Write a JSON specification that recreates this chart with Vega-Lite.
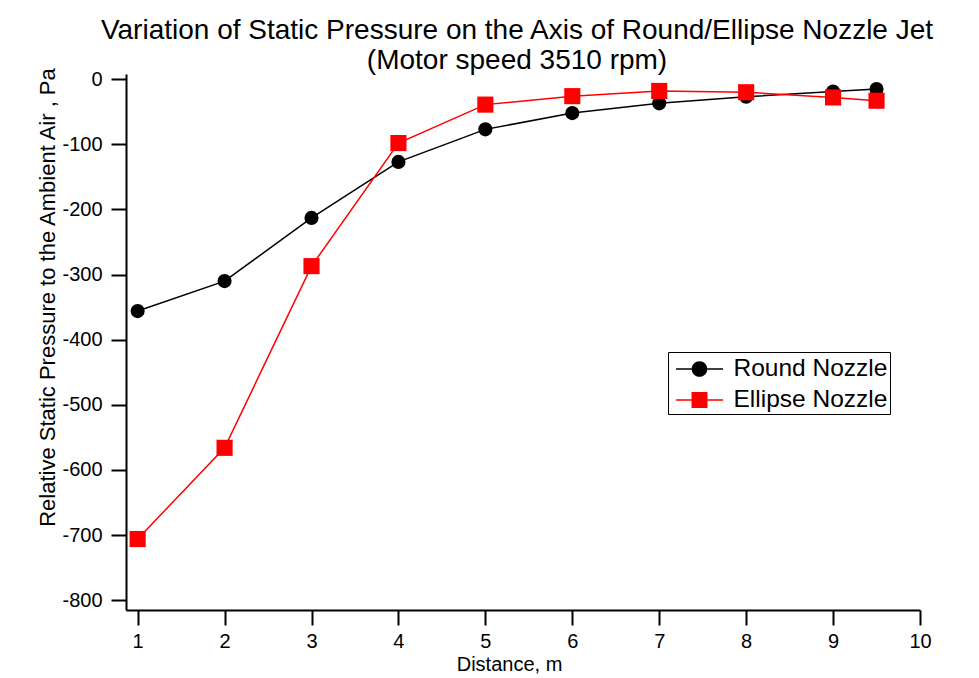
{
  "$schema": "https://vega.github.io/schema/vega-lite/v6.json",
  "width": 794,
  "height": 536,
  "autosize": "none",
  "padding": {"left": 126, "top": 74, "right": 59, "bottom": 68},
  "background": "white",
  "config": {
    "font": "Liberation Sans",
    "view": {"stroke": null},
    "axis": {"grid": false, "domainColor": "black", "domainWidth": 2, "tickColor": "black", "tickWidth": 2, "tickSize": 15, "labelColor": "black", "titleColor": "black", "labelFont": "Liberation Sans", "titleFont": "Liberation Sans", "titleFontWeight": "normal"}
  },
  "title": {
    "text": ["Variation of Static Pressure on the Axis of Round/Ellipse Nozzle Jet", "(Motor speed 3510 rpm)"],
    "font": "Liberation Sans",
    "fontSize": 28,
    "fontWeight": "normal",
    "lineHeight": 30,
    "color": "black",
    "anchor": "middle",
    "dx": -6,
    "offset": -8
  },
  "data": {
    "values": [
      {"distance": 1, "pressure": -356, "series": "Round Nozzle"},
      {"distance": 2, "pressure": -310, "series": "Round Nozzle"},
      {"distance": 3, "pressure": -213, "series": "Round Nozzle"},
      {"distance": 4, "pressure": -127, "series": "Round Nozzle"},
      {"distance": 5, "pressure": -77, "series": "Round Nozzle"},
      {"distance": 6, "pressure": -52, "series": "Round Nozzle"},
      {"distance": 7, "pressure": -37, "series": "Round Nozzle"},
      {"distance": 8, "pressure": -27, "series": "Round Nozzle"},
      {"distance": 9, "pressure": -19, "series": "Round Nozzle"},
      {"distance": 9.5, "pressure": -15, "series": "Round Nozzle"},
      {"distance": 1, "pressure": -706, "series": "Ellipse Nozzle"},
      {"distance": 2, "pressure": -566, "series": "Ellipse Nozzle"},
      {"distance": 3, "pressure": -287, "series": "Ellipse Nozzle"},
      {"distance": 4, "pressure": -98, "series": "Ellipse Nozzle"},
      {"distance": 5, "pressure": -39, "series": "Ellipse Nozzle"},
      {"distance": 6, "pressure": -26, "series": "Ellipse Nozzle"},
      {"distance": 7, "pressure": -18, "series": "Ellipse Nozzle"},
      {"distance": 8, "pressure": -20, "series": "Ellipse Nozzle"},
      {"distance": 9, "pressure": -28, "series": "Ellipse Nozzle"},
      {"distance": 9.5, "pressure": -33, "series": "Ellipse Nozzle"}
    ]
  },
  "encoding": {
    "x": {
      "field": "distance", "type": "quantitative",
      "scale": {"domain": [0.866, 10], "nice": false, "zero": false},
      "axis": {"values": [1,2,3,4,5,6,7,8,9,10], "title": "Distance, m", "labelFontSize": 20, "labelPadding": 6, "titleFontSize": 20, "titleX": 383, "titleY": 60, "titleBaseline": "alphabetic", "titleAlign": "center", "labelFlush": false}
    },
    "y": {
      "field": "pressure", "type": "quantitative",
      "scale": {"domain": [-815, 8], "nice": false, "zero": false},
      "axis": {"values": [-800,-700,-600,-500,-400,-300,-200,-100,0], "labelExpr": "'' + datum.value", "title": "Relative Static Pressure to the Ambient Air , Pa", "labelFontSize": 20, "labelPadding": 9, "titleFontSize": 22, "titleX": -72, "titleY": 223, "titleAngle": -90, "titleAlign": "center", "titleBaseline": "alphabetic", "labelFlush": false}
    },
    "color": {
      "field": "series", "type": "nominal",
      "scale": {"domain": ["Round Nozzle", "Ellipse Nozzle"], "range": ["black", "#ff0000"]},
      "legend": {
        "title": null,
        "orient": "none",
        "legendX": 542,
        "legendY": 278,
        "padding": 2.5,
        "strokeColor": "black",
        "fillColor": "white",
        "symbolSize": 841,
        "symbolOffset": 14.5,
        "labelOffset": 19.5,
        "rowPadding": 5,
        "labelFontSize": 24.5,
        "labelFont": "Liberation Sans",
        "labelColor": "black",
        "labelLimit": 300,
        "encode": {
          "symbols": {
            "update": {
              "shape": {"signal": "datum.value === 'Round Nozzle' ? 'M-1.62,-0.05H1.62V0.05H-1.62Z M-0.54,0A0.54,0.54,0,1,1,0.54,0A0.54,0.54,0,1,1,-0.54,0Z' : 'M-1.62,-0.05H1.62V0.05H-1.62Z M-0.55,-0.55H0.55V0.55H-0.55Z'"},
              "fill": {"signal": "datum.value === 'Round Nozzle' ? 'black' : '#ff0000'"},
              "stroke": {"value": "transparent"},
              "strokeWidth": {"value": 0},
              "size": {"value": 841},
              "opacity": {"value": 1}
            }
          }
        }
      }
    }
  },
  "layer": [
    {
      "mark": {"type": "line", "strokeWidth": 1.5}
    },
    {
      "transform": [{"filter": "datum.series === 'Round Nozzle'"}],
      "mark": {"type": "point", "filled": true, "opacity": 1, "shape": "circle", "size": 200}
    },
    {
      "transform": [{"filter": "datum.series === 'Ellipse Nozzle'"}],
      "mark": {"type": "point", "filled": true, "opacity": 1, "shape": "square", "size": 260}
    }
  ]
}
